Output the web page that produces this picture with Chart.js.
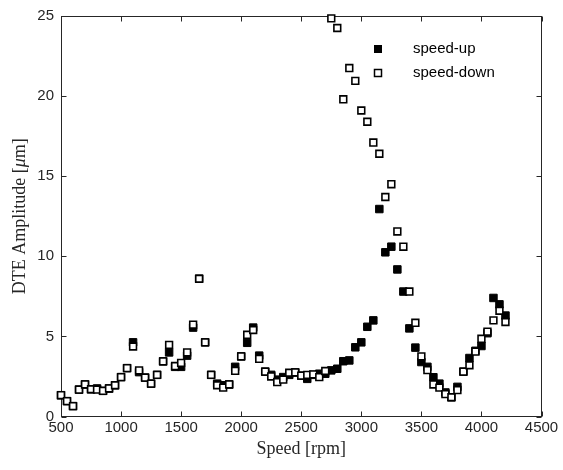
<!DOCTYPE html>
<html>
<head>
<meta charset="utf-8">
<title>DTE amplitude vs speed</title>
<script src="https://cdn.jsdelivr.net/npm/chart.js"></script>
<style>
  body { margin: 0; background: #fff; }
  #wrap { width: 563px; height: 470px; }
</style>
</head>
<body>
<div id="wrap"><canvas id="myChart"></canvas></div>
<script>
// speed in rpm
var speeds = [500, 550, 600, 650, 700, 750, 800, 850, 900, 950,
  1000, 1050, 1100, 1150, 1200, 1250, 1300, 1350, 1400, 1450,
  1500, 1550, 1600, 1650, 1700, 1750, 1800, 1850, 1900, 1950,
  2000, 2050, 2100, 2150, 2200, 2250, 2300, 2350, 2400, 2450,
  2500, 2550, 2600, 2650, 2700, 2750, 2800, 2850, 2900, 2950,
  3000, 3050, 3100, 3150, 3200, 3250, 3300, 3350, 3400, 3450,
  3500, 3550, 3600, 3650, 3700, 3750, 3800, 3850, 3900, 3950,
  4000, 4050, 4100, 4150, 4200];

// DTE amplitude [um]
var speedUp = [1.33, 0.96, 0.65, 1.68, 2.0, 1.7, 1.75, 1.6, 1.75, 1.95,
  2.46, 3.02, 4.63, 2.77, 2.43, 2.05, 2.6, 3.44, 4.0, 3.1,
  3.1, 3.8, 5.55, 8.6, 4.63, 2.6, 2.05, 1.95, 2.0, 3.1,
  3.75, 4.6, 5.55, 3.8, 2.8, 2.6, 2.3, 2.46, 2.6, 2.75,
  2.55, 2.35, 2.6, 2.67, 2.67, 2.88, 2.98, 3.45, 3.5, 4.32,
  4.63, 5.6, 6.0, 12.95, 10.25, 10.6, 9.18, 7.8, 5.5, 4.3,
  3.4, 3.1, 2.45, 2.05, 1.5, 1.2, 1.85, 2.8, 3.65, 4.1,
  4.4, 5.2, 7.4, 7.0, 6.3];

var speedDown = [1.33, 0.96, 0.65, 1.68, 2.0, 1.7, 1.68, 1.6, 1.75, 1.95,
  2.46, 3.02, 4.37, 2.88, 2.43, 2.05, 2.6, 3.44, 4.47, 3.15,
  3.35, 4.0, 5.73, 8.6, 4.63, 2.6, 1.95, 1.8, 2.0, 2.85,
  3.75, 5.1, 5.4, 3.6, 2.8, 2.5, 2.15, 2.3, 2.73, 2.75,
  2.55, 2.6, 2.63, 2.46, 2.84, 24.85, 24.25, 19.8, 21.75, 20.95,
  19.1, 18.4, 17.1, 16.4, 13.7, 14.5, 11.55, 10.6, 7.8, 5.85,
  3.75, 2.9, 2.0, 1.8, 1.4, 1.2, 1.65, 2.8, 3.2, 4.05,
  4.85, 5.3, 6.0, 6.6, 5.9];

var xTicks = [500, 1000, 1500, 2000, 2500, 3000, 3500, 4000, 4500];
var yTicks = [0, 5, 10, 15, 20, 25];
var seriesNames = ['speed-up', 'speed-down'];

function toPoints(ys) {
  var pts = [];
  for (var i = 0; i < speeds.length; i++) {
    pts.push({x: speeds[i], y: ys[i]});
  }
  return pts;
}

var axisColor = '#262626';
var tickFont = {family: 'Liberation Sans', size: 15};

// box, inward ticks, y title and legend
var frame = {
  id: 'frame',
  beforeDatasetsDraw: function(chart) {
    var ctx = chart.ctx, a = chart.chartArea;
    var xs = chart.scales.x, ys = chart.scales.y;
    var l = Math.round(a.left) + 0.5, r = Math.round(a.right) - 0.5;
    var t = Math.round(a.top) + 0.5, b = Math.round(a.bottom) - 0.5;
    ctx.save();
    ctx.strokeStyle = axisColor;
    ctx.lineWidth = 1;
    ctx.strokeRect(l, t, r - l, b - t);
    ctx.beginPath();
    xTicks.forEach(function(v) {
      var px = Math.round(xs.getPixelForValue(v)) + 0.5;
      ctx.moveTo(px, b); ctx.lineTo(px, b - 5);
      ctx.moveTo(px, t); ctx.lineTo(px, t + 5);
    });
    yTicks.forEach(function(v) {
      var py = Math.round(ys.getPixelForValue(v)) + 0.5;
      ctx.moveTo(l, py); ctx.lineTo(l + 5, py);
      ctx.moveTo(r, py); ctx.lineTo(r - 5, py);
    });
    ctx.stroke();
    ctx.restore();
  },
  afterDraw: function(chart) {
    var ctx = chart.ctx, a = chart.chartArea;
    ctx.save();
    var parts = [['DTE Amplitude [', 'normal'], ['\u03bc', 'italic'], ['m]', 'normal']];
    var total = 0;
    parts.forEach(function(p) {
      ctx.font = p[1] + ' 18px "Liberation Serif"';
      total += ctx.measureText(p[0]).width;
    });
    ctx.translate(20, (a.top + a.bottom) / 2);
    ctx.rotate(-Math.PI / 2);
    ctx.fillStyle = axisColor;
    ctx.textBaseline = 'middle';
    var cx = -total / 2;
    parts.forEach(function(p) {
      ctx.font = p[1] + ' 18px "Liberation Serif"';
      ctx.fillText(p[0], cx, 0);
      cx += ctx.measureText(p[0]).width;
    });
    ctx.restore();

    // legend
    ctx.save();
    ctx.font = '15px "Liberation Sans"';
    ctx.textBaseline = 'middle';
    ctx.fillStyle = '#000';
    ctx.fillRect(374, 45, 8, 8);
    ctx.fillText(seriesNames[0], 413, 49);
    ctx.fillStyle = '#fff';
    ctx.fillRect(374, 69, 8, 8);
    ctx.strokeStyle = '#000';
    ctx.lineWidth = 1.5;
    ctx.strokeRect(374.5, 69.5, 7, 7);
    ctx.fillStyle = '#000';
    ctx.fillText(seriesNames[1], 413, 73);
    ctx.restore();
  }
};

var myChart = new Chart(document.getElementById('myChart'), {
  type: 'scatter',
  data: {
    datasets: [{
      label: seriesNames[0],
      data: toPoints(speedUp),
      pointStyle: 'rect',
      pointRadius: 5.3,
      pointBorderWidth: 1,
      pointBackgroundColor: '#000',
      pointBorderColor: '#000',
      clip: false,
      order: 1
    }, {
      label: seriesNames[1],
      data: toPoints(speedDown),
      pointStyle: 'rect',
      pointRadius: 4.8,
      pointBorderWidth: 1.6,
      pointBackgroundColor: '#fff',
      pointBorderColor: '#000',
      clip: false,
      order: 0
    }]
  },
  options: {
    responsive: true,
    maintainAspectRatio: false,
    animation: false,
    events: [],
    layout: {padding: {top: 12.7, right: 21.5, bottom: 0, left: 0}},
    plugins: {legend: {display: false}, tooltip: {enabled: false}},
    scales: {
      x: {
        type: 'linear',
        min: 500, max: 4500,
        afterFit: function(s) { s.height = 53.5; },
        afterBuildTicks: function(s) { s.ticks = xTicks.map(function(v) { return {value: v}; }); },
        grid: {display: false, drawTicks: false},
        border: {display: false},
        ticks: {
          font: tickFont, color: axisColor, padding: 2, maxRotation: 0,
          callback: function(v) { return String(v); }
        },
        title: {
          display: true, text: 'Speed [rpm]', color: axisColor,
          font: {family: 'Liberation Serif', size: 18},
          padding: {top: 0, bottom: 9.7}
        }
      },
      y: {
        min: 0, max: 25,
        afterFit: function(s) { s.width = 61; },
        afterBuildTicks: function(s) { s.ticks = yTicks.map(function(v) { return {value: v}; }); },
        grid: {display: false, drawTicks: false},
        border: {display: false},
        ticks: {
          font: tickFont, color: axisColor, padding: 7,
          callback: function(v) { return String(v); }
        }
      }
    }
  },
  plugins: [frame]
});
</script>
</body>
</html>
